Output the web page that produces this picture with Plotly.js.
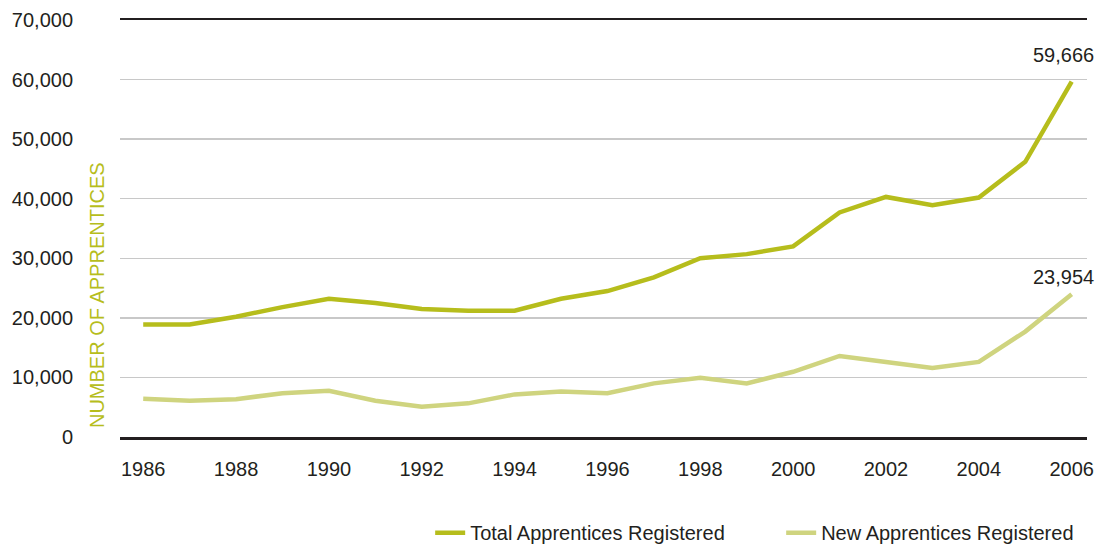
<!DOCTYPE html>
<html>
<head>
<meta charset="utf-8">
<script src="https://cdn.plot.ly/plotly-3.0.1.min.js"></script>
<style>html,body{margin:0;padding:0;background:#fff;}#chart{width:1103px;height:548px;}</style>
</head>
<body>
<div id="chart"></div>
<script>
const years = [1986,1987,1988,1989,1990,1991,1992,1993,1994,1995,1996,1997,1998,1999,2000,2001,2002,2003,2004,2005,2006];
const totalApprentices = [18900,18900,20200,21800,23200,22500,21500,21200,21200,23200,24500,26800,30000,30700,32000,37700,40300,38900,40200,46200,59666];
const newApprentices = [6400,6100,6350,7350,7750,6100,5100,5650,7150,7650,7350,9000,9950,9000,10950,13600,12600,11600,12600,17700,23954];
const tickYears = [1986,1988,1990,1992,1994,1996,1998,2000,2002,2004,2006];
const yTicks = [0,10000,20000,30000,40000,50000,60000,70000];
const yTickText = ['0','10,000','20,000','30,000','40,000','50,000','60,000','70,000'];

const font = '"Liberation Sans", Arial, sans-serif';
const lastIdx = years.length - 1;

const traces = [
  {x: years, y: totalApprentices, type: 'scatter', mode: 'lines', name: 'Total Apprentices Registered',
   line: {color: '#b6bd1c', width: 4.5}},
  {x: years, y: newApprentices, type: 'scatter', mode: 'lines', name: 'New Apprentices Registered',
   line: {color: '#cfd47f', width: 4.5}}
];

const layout = {
  width: 1103, height: 548,
  margin: {l: 120, r: 16, t: 20, b: 111, autoexpand: false},
  paper_bgcolor: '#fff', plot_bgcolor: '#fff',
  font: {family: font, color: '#231f20', size: 20},
  showlegend: true,
  legend: {orientation: 'h', xref: 'container', yref: 'container', x: 0.39, xanchor: 'left',
           y: 0.028, yanchor: 'middle', entrywidth: 306, entrywidthmode: 'pixels',
           font: {size: 20, color: '#231f20'}, itemwidth: 30, tracegroupgap: 0},
  xaxis: {range: [1985.5, 2006.33], tickvals: tickYears, ticktext: tickYears.map(String),
          showgrid: false, zeroline: false, showline: true, mirror: true,
          linecolor: '#231f20', linewidth: 2.5, ticks: '', ticklen: 0, ticklabelstandoff: 12,
          tickfont: {size: 20, color: '#231f20'}, fixedrange: true},
  yaxis: {range: [0, 70000], tickvals: yTicks, ticktext: yTickText,
          showgrid: true, gridcolor: '#c8c8c8', gridwidth: 1.5,
          zeroline: false, showline: false, ticks: '', ticklabelstandoff: 46,
          tickfont: {size: 20, color: '#231f20'}, fixedrange: true},
  annotations: [
    {xref: 'paper', yref: 'paper', x: -0.024, y: 0.34, text: 'NUMBER OF APPRENTICES', textangle: -90,
     showarrow: false, xanchor: 'center', yanchor: 'middle', font: {size: 20, color: '#b6bd1c'}},
    {x: years[lastIdx], y: totalApprentices[lastIdx], text: totalApprentices[lastIdx].toLocaleString('en-US'),
     showarrow: false, yanchor: 'bottom', yshift: 14, xanchor: 'center', xshift: -8, font: {size: 20, color: '#231f20'}},
    {x: years[lastIdx], y: newApprentices[lastIdx], text: newApprentices[lastIdx].toLocaleString('en-US'),
     showarrow: false, yanchor: 'bottom', yshift: 4, xanchor: 'center', xshift: -8, font: {size: 20, color: '#231f20'}}
  ]
};

Plotly.newPlot('chart', traces, layout, {displayModeBar: false, staticPlot: true});
</script>
</body>
</html>
